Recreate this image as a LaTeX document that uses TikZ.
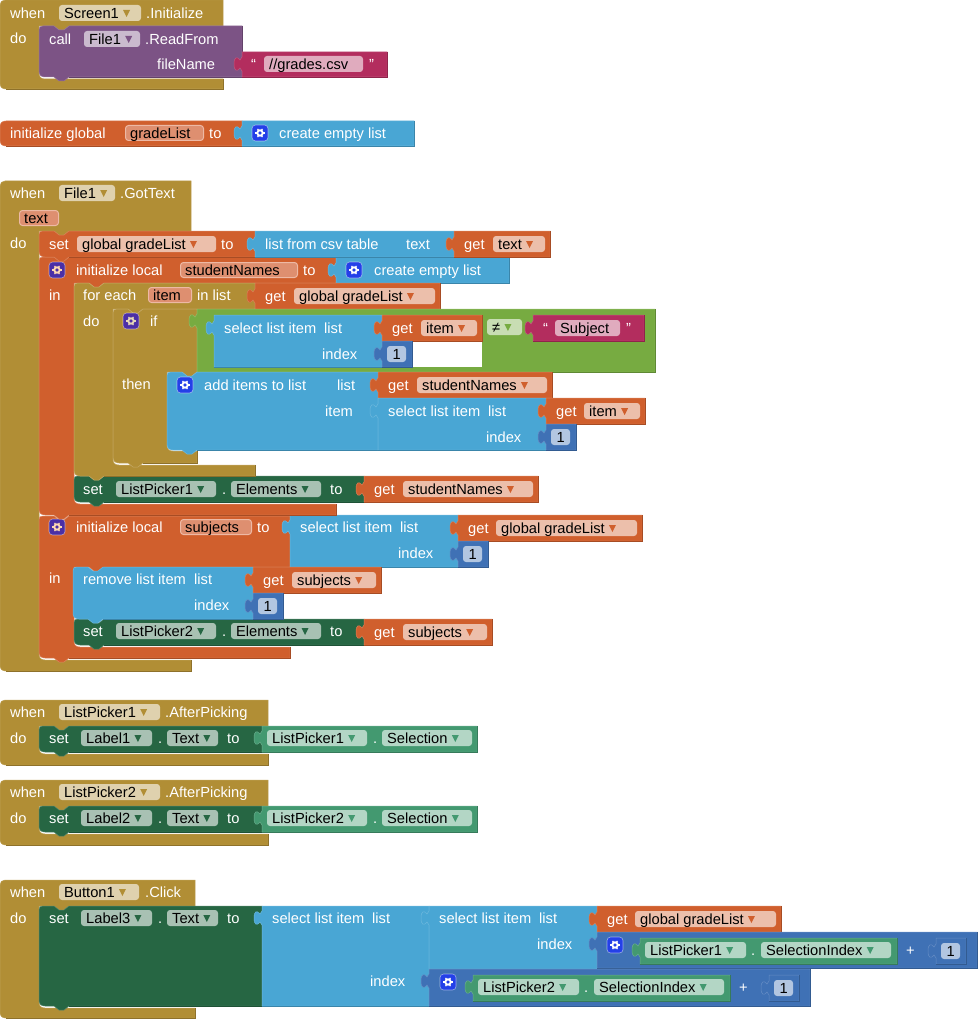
\documentclass[tikz,border=0pt]{standalone}
\usepackage{fontspec}
\setmainfont{Liberation Sans}
\usetikzlibrary{calc}

\definecolor{ctrlcol}{HTML}{B18E35}
\definecolor{varcol}{HTML}{D05F2D}
\definecolor{listcol}{HTML}{49A6D4}
\definecolor{mathcol}{HTML}{3F71B5}
\definecolor{logiccol}{HTML}{77AB41}
\definecolor{textcol}{HTML}{B32D5E}
\definecolor{setcol}{HTML}{266643}
\definecolor{getcol}{HTML}{439970}
\definecolor{callcol}{HTML}{7C5385}
\definecolor{gearblue}{HTML}{2440E8}
\definecolor{gearpurple}{HTML}{4B2FA6}
\definecolor{namecol}{HTML}{DE8F70}
\definecolor{nameedge}{HTML}{EDB9A5}

\tikzset{
  edge/.style={line width=0.5pt},
  blocktext/.style={anchor=base west,inner sep=0pt,text=white,font=\fontsize{14.67}{14.67}\selectfont},
  fieldtext/.style={anchor=base west,inner sep=0pt,text=black,font=\fontsize{14.67}{14.67}\selectfont},
  fieldfill/.style={fill=white,fill opacity=0.6,rounded corners=3pt},
  namefill/.style={fill=namecol,draw=nameedge,line width=1pt,rounded corners=3pt},
  gearfill/.style={draw=white,draw opacity=0.5,line width=0.6pt,rounded corners=3.5pt}
}

\newcounter{txtno}
\newcommand{\lbl}[3]{\stepcounter{txtno}\node[blocktext] (txt\thetxtno) at (#1,#2+5.3) {#3};}
\newcommand{\fieldlbl}[3]{\stepcounter{txtno}\node[fieldtext] (txt\thetxtno) at (#1,#2+5.3) {#3};}

\newcommand{\tabpath}[2]{-- (#1,#2+7) -- (#1-2,#2+4) .. controls (#1-5,#2+8) and (#1-8,#2+7) .. (#1-8,#2) .. controls (#1-8,#2-7) and (#1-5,#2-8) .. (#1-2,#2-4) -- (#1,#2-7)}
\newcommand{\clamplower}[5]{-- (#1,#2) -- (#3+30,#2) -- (#3+25,#2+4) -- (#3+20,#2+4) -- (#3+15,#2) -- (#3,#2) -- (#3,#4-6) .. controls (#3,#4-2) and (#3+2,#4) .. (#3+6,#4) -- (#1,#4) -- (#1,#5)}

\newcommand{\valueblock}[6]{
  \filldraw[fill=#1,draw=#1!80!white,edge] (#2,#3) -- (#4,#3) -- (#4,#5) -- (#2,#5) \tabpath{#2}{#6} -- cycle;
  \draw[#1!80!black,edge] (#4,#3) -- (#4,#5) -- (#2,#5);
}
\newcommand{\stmtblock}[5]{
  \filldraw[fill=#1,draw=#1!80!white,edge] (#2+4,#3) -- (#2+15,#3) -- (#2+20,#3+4) -- (#2+25,#3+4) -- (#2+30,#3) -- (#4,#3) -- (#4,#5) -- (#2+30,#5) -- (#2+25,#5+4) -- (#2+20,#5+4) -- (#2+15,#5) -- (#2+6,#5) .. controls (#2+2,#5) and (#2,#5-2) .. (#2,#5-6) -- (#2,#3+4) .. controls (#2,#3+1) and (#2+1,#3) .. (#2+4,#3) -- cycle;
  \draw[#1!80!black,edge] (#4,#3) -- (#4,#5) -- (#2+30,#5);
}
\newcommand{\capblock}[5]{
  \filldraw[fill=#1,draw=#1!80!white,edge] (#2+6,#3) -- (#4,#3) -- (#4,#5) -- (#2+6,#5) .. controls (#2+2,#5) and (#2,#5-2) .. (#2,#5-6) -- (#2,#3+6) .. controls (#2,#3+2) and (#2+2,#3) .. (#2+6,#3) -- cycle;
  \draw[#1!80!black,edge] (#4,#3) -- (#4,#5) -- (#2+6,#5);
}
\newcommand{\hatblock}[8]{
  \filldraw[fill=#1,draw=#1!85!white,edge] (#2+5,#3) -- (#4,#3) \clamplower{#4}{#5}{#6}{#7}{#8} -- (#2+6,#8) .. controls (#2+2,#8) and (#2,#8-2) .. (#2,#8-6) -- (#2,#3+5) .. controls (#2,#3+2) and (#2+2,#3) .. (#2+5,#3) -- cycle;
  \draw[#1!80!black,edge] (#4,#7) -- (#4,#8) -- (#2+6,#8);
}
\newcommand{\clampblock}[8]{
  \filldraw[fill=#1,draw=#1!75!white,edge] (#2+4,#3) -- (#2+15,#3) -- (#2+20,#3+4) -- (#2+25,#3+4) -- (#2+30,#3) -- (#4,#3) \clamplower{#4}{#5}{#6}{#7}{#8} -- (#2+30,#8) -- (#2+25,#8+4) -- (#2+20,#8+4) -- (#2+15,#8) -- (#2+6,#8) .. controls (#2+2,#8) and (#2,#8-2) .. (#2,#8-6) -- (#2,#3+4) .. controls (#2,#3+1) and (#2+1,#3) .. (#2+4,#3) -- cycle;
  \draw[#1!80!black,edge] (#4,#7) -- (#4,#8) -- (#2+30,#8);
}

\newcommand{\ddfield}[5]{
  \path[fieldfill] (#1,#3-8) rectangle (#2,#3+8);
  \stepcounter{txtno}
  \node[fieldtext] (txt\thetxtno) at (#1+5,#3+5.3) {#4};
  \fill[#5] ($(txt\thetxtno.base east)+(4,-8.3)$) -- ++(7,0) -- ++(-3.5,7) -- cycle;
}
\newcommand{\namefield}[4]{
  \path[namefill] (#1+0.5,#3-7.5) rectangle (#2-0.5,#3+7.5);
  \fieldlbl{#1+5}{#3}{#4}
}
\newcommand{\strfield}[4]{
  \path[fieldfill] (#1,#3-8) rectangle (#2,#3+8);
  \fieldlbl{#1+5}{#3}{#4}
}
\newcommand{\numblock}[2]{
  \valueblock{mathcol}{#1}{#2}{#1+30}{#2+26}{#2+13}
  \path[fieldfill] (#1+5,#2+5) rectangle (#1+24,#2+21);
  \fieldlbl{#1+10.5}{#2+13}{1}
}
\newcommand{\gearbox}[4]{
  \path[gearfill,fill=#3] (#1-8,#2-8) rectangle (#1+8,#2+8);
  \draw[#4,line width=1.9pt] (#1,#2) circle (2.7pt);
  \foreach \a in {0,60,...,300} \draw[#4,line width=1.2pt] (#1,#2) ++(\a:3.4) -- ++(\a:1.4);
}
\newcommand{\getblock}[6]{
  \valueblock{varcol}{#1}{#2}{#3}{#2+26}{#2+13}
  \lbl{#1+10}{#2+13}{get}
  \ddfield{#4}{#5}{#2+13}{#6}{varcol}
}

\begin{document}
\begin{tikzpicture}[x=1pt,y=-1pt]
  \useasboundingbox (0,0) rectangle (977,1019);

  \hatblock{ctrlcol}{0}{0}{223}{26}{39}{79}{89}
  \lbl{10}{13}{when}
  \ddfield{59}{141}{13}{Screen1}{ctrlcol}
  \lbl{146}{13}{.Initialize}
  \lbl{10}{38}{do}
  \stmtblock{callcol}{39}{26}{242}{77}
  \lbl{49}{39}{call}
  \ddfield{84}{140}{39}{File1}{callcol}
  \lbl{145}{39}{.ReadFrom}
  \lbl{157}{64}{fileName}
  \valueblock{textcol}{242}{52}{387}{77}{64}
  \lbl{251}{64}{“}
  \strfield{264}{363}{64}{//grades.csv}
  \lbl{369}{64}{”}

  \capblock{varcol}{0}{121}{242}{146}
  \lbl{10}{133}{initialize global}
  \namefield{125}{204}{133}{gradeList}
  \lbl{209}{133}{to}
  \valueblock{listcol}{242}{121}{414}{146}{133}
  \gearbox{260}{133}{gearblue}{white}
  \lbl{279}{133}{create empty list}

  \hatblock{ctrlcol}{0}{181}{191}{231}{39}{660}{671}
  \lbl{10}{193}{when}
  \ddfield{59}{115}{193}{File1}{ctrlcol}
  \lbl{120}{193}{.GotText}
  \namefield{19}{59}{218}{text}
  \lbl{10}{243}{do}

  \clampblock{varcol}{39}{516}{290}{567}{74}{647}{658}
  \gearbox{57}{527}{gearpurple}{orange!30!white}
  \lbl{76}{527}{initialize local}
  \namefield{180}{252}{527}{subjects}
  \lbl{257}{527}{to}
  \lbl{49}{578}{in}
  \valueblock{listcol}{290}{515}{458}{567}{527}
  \lbl{300}{527}{select list item}
  \lbl{400}{527}{list}
  \lbl{398}{553}{index}
  \getblock{458}{515}{642}{496}{637}{global gradeList}
  \numblock{458}{541}
  \stmtblock{setcol}{74}{619}{364}{645}
  \lbl{83}{631}{set}
  \ddfield{116}{216}{631}{ListPicker2}{setcol}
  \lbl{222}{631}{.}
  \ddfield{231}{321}{631}{Elements}{setcol}
  \lbl{330}{631}{to}
  \getblock{364}{619}{492}{403}{487}{subjects}
  \stmtblock{listcol}{73}{567}{253}{619}
  \lbl{83}{579}{remove list item}
  \lbl{194}{579}{list}
  \lbl{194}{605}{index}
  \getblock{253}{567}{381}{292}{376}{subjects}
  \numblock{253}{593}

  \clampblock{varcol}{39}{257}{336}{283}{74}{504}{515}
  \gearbox{57}{270}{gearpurple}{orange!30!white}
  \lbl{76}{270}{initialize local}
  \namefield{180}{298}{270}{studentNames}
  \lbl{303}{270}{to}
  \lbl{49}{295}{in}
  \valueblock{listcol}{336}{257}{509}{283}{270}
  \gearbox{354}{270}{gearblue}{white}
  \lbl{374}{270}{create empty list}
  \stmtblock{setcol}{74}{476}{364}{502}
  \lbl{83}{489}{set}
  \ddfield{116}{216}{489}{ListPicker1}{setcol}
  \lbl{222}{489}{.}
  \ddfield{231}{321}{489}{Elements}{setcol}
  \lbl{330}{489}{to}
  \getblock{364}{476}{538}{403}{533}{studentNames}
  \clampblock{ctrlcol}{74}{283}{255}{309}{113}{465}{476}
  \lbl{83}{295}{for each}
  \namefield{148}{192}{295}{item}
  \lbl{197}{295}{in list}
  \lbl{83}{321}{do}
  \getblock{255}{283}{440}{294}{435}{global gradeList}
  \clampblock{ctrlcol}{113}{309}{197}{372}{167}{451}{463}
  \gearbox{131}{321}{gearpurple}{ctrlcol!35!white}
  \lbl{150}{321}{if}
  \lbl{122}{384}{then}
  \valueblock{logiccol}{197}{309}{655}{372}{321}
  \fill[white] (214,315) rectangle (482,367);
  \valueblock{listcol}{214}{315}{382}{367}{328}
  \lbl{224}{328}{select list item}
  \lbl{324}{328}{list}
  \lbl{322}{354}{index}
  \getblock{382}{315}{482}{421}{477}{item}
  \numblock{382}{341}
  \ddfield{487}{522}{327}{≠}{logiccol}
  \valueblock{textcol}{533}{315}{644}{341}{328}
  \lbl{543}{328}{“}
  \strfield{555}{620}{328}{Subject}
  \lbl{626}{328}{”}
  \stmtblock{listcol}{167}{372}{378}{450}
  \gearbox{185}{385}{gearblue}{white}
  \lbl{204}{385}{add items to list}
  \lbl{337}{385}{list}
  \lbl{325}{411}{item}
  \getblock{378}{372}{552}{417}{547}{studentNames}
  \valueblock{listcol}{378}{398}{546}{450}{411}
  \lbl{388}{411}{select list item}
  \lbl{488}{411}{list}
  \lbl{486}{437}{index}
  \getblock{546}{398}{645}{584}{640}{item}
  \numblock{546}{424}

  \stmtblock{varcol}{39}{231}{255}{257}
  \lbl{49}{244}{set}
  \ddfield{77}{216}{244}{global gradeList}{varcol}
  \lbl{221}{244}{to}
  \valueblock{listcol}{255}{231}{454}{257}{244}
  \lbl{265}{244}{list from csv table}
  \lbl{406}{244}{text}
  \getblock{454}{231}{550}{493}{545}{text}

  \hatblock{ctrlcol}{0}{700}{268}{726}{39}{754}{765}
  \lbl{10}{712}{when}
  \ddfield{59}{160}{712}{ListPicker1}{ctrlcol}
  \lbl{165}{712}{.AfterPicking}
  \lbl{10}{738}{do}
  \stmtblock{setcol}{39}{726}{262}{752}
  \lbl{49}{738}{set}
  \ddfield{81}{152}{738}{Label1}{setcol}
  \lbl{158}{738}{.}
  \ddfield{167}{218}{738}{Text}{setcol}
  \lbl{227}{738}{to}
  \valueblock{getcol}{262}{726}{477}{752}{738}
  \ddfield{267}{367}{738}{ListPicker1}{getcol}
  \lbl{373}{738}{.}
  \ddfield{382}{472}{738}{Selection}{getcol}

  \hatblock{ctrlcol}{0}{780}{268}{806}{39}{834}{845}
  \lbl{10}{792}{when}
  \ddfield{59}{160}{792}{ListPicker2}{ctrlcol}
  \lbl{165}{792}{.AfterPicking}
  \lbl{10}{818}{do}
  \stmtblock{setcol}{39}{806}{262}{832}
  \lbl{49}{818}{set}
  \ddfield{81}{152}{818}{Label2}{setcol}
  \lbl{158}{818}{.}
  \ddfield{167}{218}{818}{Text}{setcol}
  \lbl{227}{818}{to}
  \valueblock{getcol}{262}{806}{477}{832}{818}
  \ddfield{267}{367}{818}{ListPicker2}{getcol}
  \lbl{373}{818}{.}
  \ddfield{382}{472}{818}{Selection}{getcol}

  \hatblock{ctrlcol}{0}{880}{195}{906}{39}{1008}{1018}
  \lbl{10}{892}{when}
  \ddfield{59}{139}{892}{Button1}{ctrlcol}
  \lbl{145}{892}{.Click}
  \lbl{10}{918}{do}
  \stmtblock{setcol}{39}{906}{262}{1006}
  \lbl{49}{918}{set}
  \ddfield{81}{152}{918}{Label3}{setcol}
  \lbl{158}{918}{.}
  \ddfield{167}{218}{918}{Text}{setcol}
  \lbl{227}{918}{to}
  \valueblock{listcol}{262}{906}{429}{1006}{918}
  \lbl{272}{918}{select list item}
  \lbl{372}{918}{list}
  \lbl{370}{981}{index}
  \valueblock{listcol}{429}{906}{597}{969}{918}
  \lbl{439}{918}{select list item}
  \lbl{539}{918}{list}
  \lbl{537}{944}{index}
  \getblock{597}{906}{781}{635}{776}{global gradeList}
  \valueblock{mathcol}{597}{932}{977}{968}{944}
  \gearbox{615}{945}{gearblue}{white}
  \valueblock{getcol}{640}{938}{897}{964}{950}
  \ddfield{645}{746}{950}{ListPicker1}{getcol}
  \lbl{751}{950}{.}
  \ddfield{761}{891}{950}{SelectionIndex}{getcol}
  \lbl{906}{950}{+}
  \numblock{936}{938}
  \valueblock{mathcol}{429}{969}{810}{1006}{981}
  \gearbox{448}{982}{gearblue}{white}
  \valueblock{getcol}{473}{975}{730}{1001}{987}
  \ddfield{478}{579}{987}{ListPicker2}{getcol}
  \lbl{584}{987}{.}
  \ddfield{594}{724}{987}{SelectionIndex}{getcol}
  \lbl{739}{987}{+}
  \numblock{769}{975}
\end{tikzpicture}
\end{document}
